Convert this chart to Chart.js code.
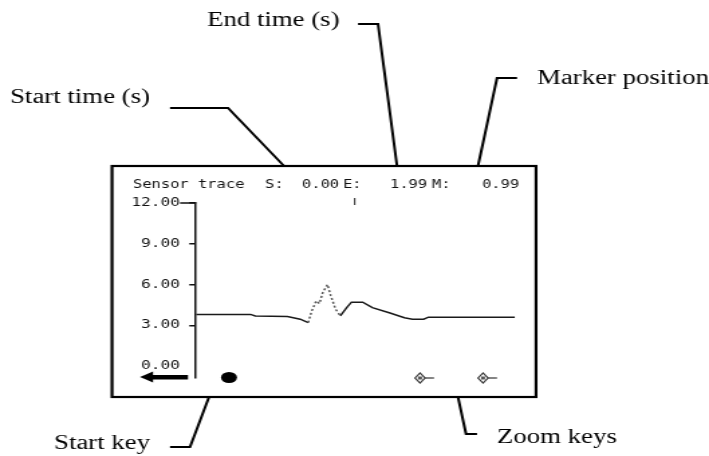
<!DOCTYPE html>
<html>
<head>
<meta charset="utf-8">
<script src="https://cdn.jsdelivr.net/npm/chart.js"></script>
<style>
  html, body { margin: 0; padding: 0; background: #fff; overflow: hidden; }
  /* the reference picture is stretched sideways, so the whole canvas is too */
  #wrap { width: 529px; height: 456px; transform: scaleX(1.3403); transform-origin: 0 0; }
</style>
</head>
<body>
<div id="wrap"><canvas id="chart" width="529" height="456"></canvas></div>
<script>
// trace (time in s, value)
const traceT = [0, 0.34, 0.37, 0.57, 0.65, 0.70, 0.72, 0.75, 0.77, 0.79, 0.82, 0.84, 0.87, 0.90, 0.94, 0.97, 1.04, 1.10, 1.21, 1.30, 1.35, 1.42, 1.45, 1.99];
const traceV = [3.8, 3.8, 3.68, 3.65, 3.45, 3.2, 4.0, 4.8, 4.6, 5.4, 6.0, 5.2, 4.2, 3.7, 4.3, 4.7, 4.7, 4.3, 3.9, 3.55, 3.45, 3.45, 3.6, 3.6];

// the spiky part is drawn faint/dotted on the screen
const noisyFrom = 0.70;
const noisyTo = 0.90;

const yTicks = [0, 3, 6, 9, 12];
const startTime = 0.00;
const endTime = 1.99;
const markerTime = 0.99;
const title = "Sensor trace";

const callouts = ["Start time (s)", "End time (s)", "Marker position", "Start key", "Zoom keys"];

// horizontal stretch of the page
const SX = 709 / 529;
const X = x => x / SX;

const MONO = "'DejaVu Sans Mono', monospace";
const SERIF = "'Liberation Serif', 'Times New Roman', serif";

const decor = {
  id: "decor",
  afterDraw(chart) {
    const ctx = chart.ctx;
    const xs = chart.scales.x;
    const ys = chart.scales.y;
    ctx.save();
    ctx.strokeStyle = "#000";
    ctx.fillStyle = "#000";

    // screen frame
    ctx.lineWidth = 2.2;
    ctx.strokeRect(X(112), 166, X(536) - X(112), 397 - 166);

    // callout leaders
    ctx.lineWidth = 2;
    const leader = pts => {
      ctx.beginPath();
      ctx.moveTo(X(pts[0][0]), pts[0][1]);
      for (let i = 1; i < pts.length; i++) ctx.lineTo(X(pts[i][0]), pts[i][1]);
      ctx.stroke();
    };
    leader([[170, 108], [228, 108], [284, 166]]);
    leader([[358, 24], [378, 24], [397, 166]]);
    leader([[517, 78], [497, 78], [478, 166]]);
    leader([[170, 447], [190, 447], [209, 397]]);
    leader([[477, 434], [466, 434], [458, 397]]);

    ctx.font = "20px " + SERIF;
    ctx.textBaseline = "alphabetic";
    ctx.textAlign = "left";
    ctx.fillText(callouts[0], X(10), 103);
    ctx.fillText(callouts[1], X(207), 26);
    ctx.fillText(callouts[2], X(537), 84);
    ctx.fillText(callouts[3], X(54), 449);
    ctx.fillText(callouts[4], X(497), 443);

    // header line of the screen
    ctx.fillStyle = "#111";
    ctx.font = "11.5px " + MONO;
    const head = [
      [title, 133], ["S:", 265], [startTime.toFixed(2), 302], ["E:", 343],
      [endTime.toFixed(2), 390], ["M:", 432], [markerTime.toFixed(2), 482]
    ];
    head.forEach(h => ctx.fillText(h[0], X(h[1]), 188));

    // marker tick
    const mx = xs.getPixelForValue(markerTime);
    ctx.lineWidth = 1;
    ctx.strokeStyle = "#222";
    ctx.beginPath();
    ctx.moveTo(mx, 198);
    ctx.lineTo(mx, 205);
    ctx.stroke();

    // top tick joins the 12.00 label
    const y12 = ys.getPixelForValue(12);
    ctx.lineWidth = 1.5;
    ctx.strokeStyle = "#111";
    ctx.beginPath();
    ctx.moveTo(X(180), y12);
    ctx.lineTo(ys.right, y12);
    ctx.stroke();

    // soft keys
    ctx.fillStyle = "#000";
    ctx.fillRect(X(150), 375, X(188) - X(150), 4.5);
    ctx.beginPath();
    ctx.moveTo(X(140), 377);
    ctx.lineTo(X(153), 371.5);
    ctx.lineTo(X(153), 382.5);
    ctx.closePath();
    ctx.fill();

    ctx.beginPath();
    ctx.ellipse(X(229), 377.5, X(237) - X(229), 5.5, 0, 0, Math.PI * 2);
    ctx.fill();

    const zoomKey = (cx) => {
      ctx.lineWidth = 1.2;
      ctx.strokeStyle = "#333";
      ctx.beginPath();
      ctx.moveTo(X(cx - 5), 378);
      ctx.lineTo(X(cx), 373);
      ctx.lineTo(X(cx + 5), 378);
      ctx.lineTo(X(cx), 383);
      ctx.closePath();
      ctx.stroke();
      ctx.fillStyle = "#555";
      ctx.fillRect(X(cx - 2), 376.5, X(cx + 2) - X(cx - 2), 3);
      ctx.beginPath();
      ctx.moveTo(X(cx + 5), 378);
      ctx.lineTo(X(cx + 14), 378);
      ctx.stroke();
    };
    zoomKey(420);
    zoomKey(483);

    ctx.restore();
  }
};

const noisy = c => c.p0.parsed.x >= noisyFrom && c.p0.parsed.x < noisyTo;

new Chart(document.getElementById("chart"), {
  type: "line",
  data: {
    datasets: [{
      label: title,
      data: traceT.map((t, i) => ({ x: t, y: traceV[i] })),
      borderColor: "#1a1a1a",
      borderWidth: 1.5,
      pointRadius: 0,
      tension: 0,
      segment: {
        borderColor: c => noisy(c) ? "#555" : "#1a1a1a",
        borderDash: c => noisy(c) ? [2, 2] : undefined
      }
    }]
  },
  options: {
    responsive: false,
    animation: false,
    layout: {
      padding: { left: X(196) - 60, right: 529 - X(515), top: 203, bottom: 456 - 378 }
    },
    plugins: {
      legend: { display: false },
      tooltip: { enabled: false }
    },
    scales: {
      x: {
        type: "linear",
        min: startTime,
        max: endTime,
        display: false
      },
      y: {
        type: "linear",
        min: -0.88,
        max: 12,
        afterBuildTicks: s => { s.ticks = yTicks.map(v => ({ value: v })); },
        afterFit: s => { s.width = 60; },
        ticks: {
          callback: v => Number(v).toFixed(2),
          color: "#111",
          font: { family: "DejaVu Sans Mono", size: 12 },
          padding: 7
        },
        grid: {
          drawOnChartArea: false,
          tickLength: 5,
          lineWidth: 1.5,
          color: ctx => (ctx.tick && ctx.tick.value === 0) ? "rgba(0,0,0,0)" : "#111"
        },
        border: { color: "#111", width: 1.5 }
      }
    }
  },
  plugins: [decor]
});
</script>
</body>
</html>
